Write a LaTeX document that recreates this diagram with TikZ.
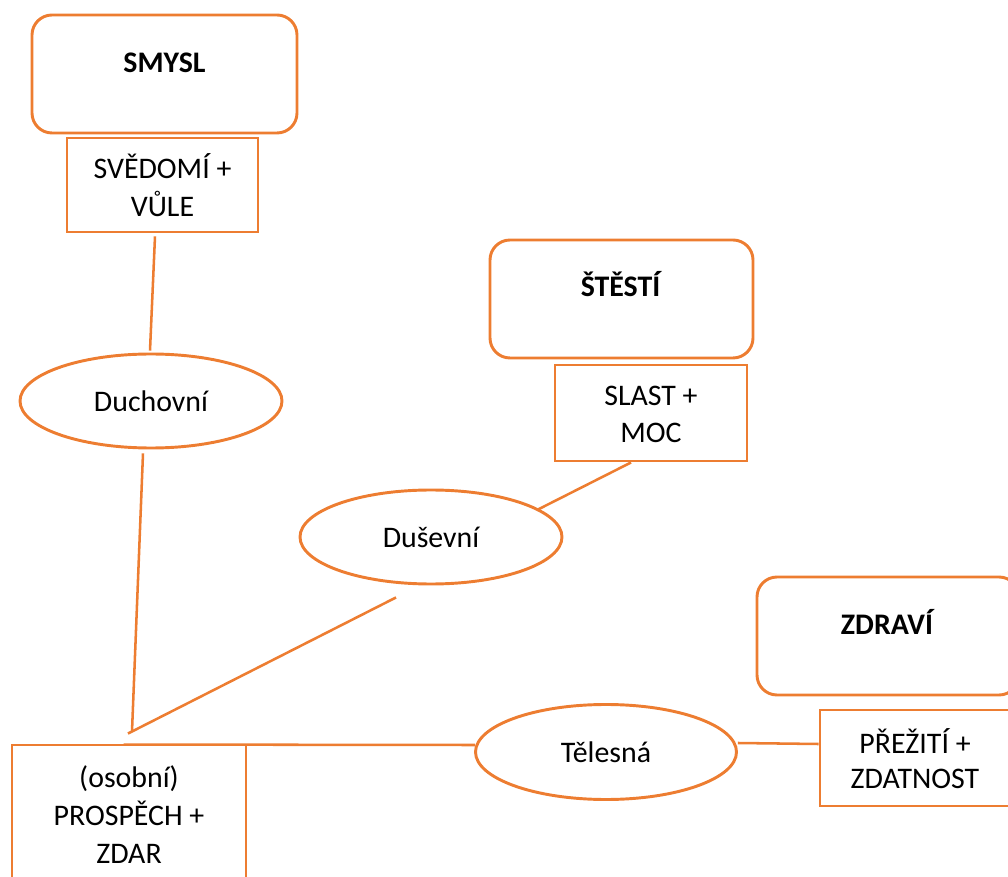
\documentclass[tikz,border=0pt]{standalone}
\usepackage{fontspec}
\setmainfont{Carlito}
\usetikzlibrary{shapes.geometric,calc}
\definecolor{office}{HTML}{ED7D31}
\newcommand{\stacktext}[3]{\raisebox{#1}[0pt][0pt]{\fontsize{22.4}{#2}\selectfont\begin{tabular}[t]{@{}c@{}}#3\end{tabular}}}
\newcommand{\onetext}[2]{\raisebox{#1}[0pt][0pt]{#2}}
\begin{document}
\begin{tikzpicture}[x=0.75pt,y=-0.75pt,
  every node/.style={font=\fontsize{22.4}{28}\selectfont, text=black},
  roundbox/.style={draw=office, line width=2.2pt, rounded corners=15pt, minimum width=263*0.75pt, minimum height=118*0.75pt, inner sep=0pt},
  sqbox/.style={draw=office, line width=2.2pt, minimum width=191*0.75pt, minimum height=95*0.75pt, inner sep=0pt},
  oval/.style={draw=office, line width=2.2pt, ellipse, minimum width=262*0.75pt, minimum height=94*0.75pt, inner sep=0pt},
  link/.style={draw=office, line width=1.9pt}]
\useasboundingbox (0,0) rectangle (1008,877);
\clip (0,0) rectangle (1008,877);
% top-level boxes
\node[roundbox, minimum width=265*0.75pt] (smysl) at (164.5,74) {\onetext{0.75pt}{\textbf{SMYSL}}};
\node[roundbox] (stesti) at (621.5,299) {\onetext{1.5pt}{\textbf{ŠTĚSTÍ}}};
\node[roundbox, minimum width=262*0.75pt] (zdravi) at (888,636) {\onetext{1.5pt}{\textbf{ZDRAVÍ}}};
% rectangles
\node[sqbox, minimum height=94*0.75pt] (sved) at (162.5,185) {\stacktext{4.5pt}{28.5pt}{SVĚDOMÍ +\\VŮLE}};
\node[sqbox, minimum width=192*0.75pt, minimum height=96*0.75pt] (slast) at (651,413) {\stacktext{5.5pt}{28pt}{SLAST +\\MOC}};
\node[sqbox, minimum width=190*0.75pt, minimum height=96*0.75pt] (prez) at (915,758) {\stacktext{3.75pt}{26.5pt}{PŘEŽITÍ +\\ZDATNOST}};
\node[sqbox, minimum width=234*0.75pt, minimum height=142*0.75pt] (prosp) at (129,816) {\stacktext{21.75pt}{28.5pt}{(osobní)\\PROSPĚCH +\\ZDAR}};
% ellipses
\node[oval] (duch) at (151,401) {Duchovní};
\node[oval] (dusev) at (431,537) {Duševní};
\node[oval, minimum width=261*0.75pt, minimum height=95*0.75pt] (teles) at (606,752) {Tělesná};
% connectors
\draw[link] ($(sved.south)+(-7.5,3)$) -- ($(duch.north)+(-1,-2)$);
\draw[link] ($(duch.south)+(-8,4)$) -- ($(prosp.north)+(3,-12)$);
\draw[link] ($(dusev.south)+(-35,12)$) -- ($(prosp.north)+(-1,-10)$);
\draw[link] ($(slast.south)+(-20,0)$) -- ($(dusev.center)+(106,-27)$);
\draw[link] ($(prosp.north west)+(113,1)$) -- ($(teles.west)+(1,-7)$);
\draw[link] ($(teles.east)+(0,-9)$) -- ($(prez.west)+(0,-14)$);
\end{tikzpicture}
\end{document}
